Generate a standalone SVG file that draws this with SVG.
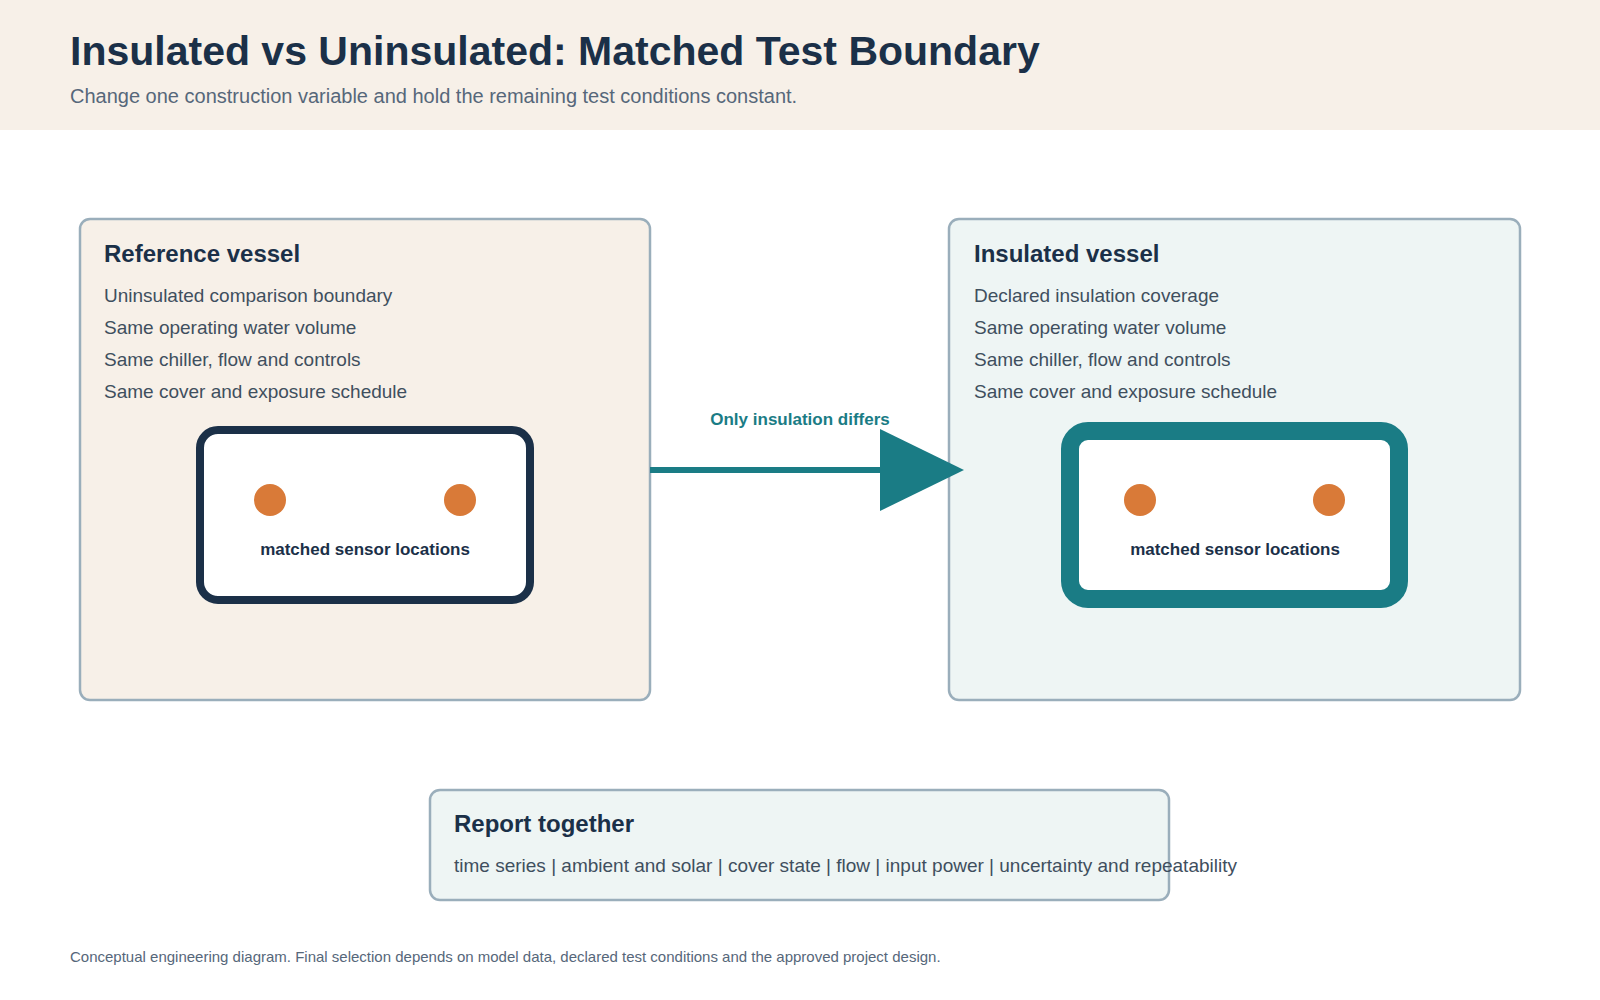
<svg xmlns="http://www.w3.org/2000/svg" width="1600" height="1000" viewBox="0 0 1600 1000">
<style>
text{font-family:"Liberation Sans",Arial,sans-serif}
.t{font-size:24px;font-weight:bold;fill:#1b3048}
.l{font-size:19px;fill:#3f4f5e}
.s{font-size:17px;font-weight:bold;fill:#1b3048}
.box{stroke:#9aaebb;stroke-width:2.5}
.dot{fill:#d97a38}
</style>
<rect width="1600" height="1000" fill="#fff"/>
<rect width="1600" height="130" fill="#f7f0e8"/>
<text x="70" y="65" font-size="41" font-weight="bold" fill="#1b3048">Insulated vs Uninsulated: Matched Test Boundary</text>
<text x="70" y="103" font-size="20" fill="#56677a">Change one construction variable and hold the remaining test conditions constant.</text>
<g id="reference">
<rect class="box" x="80" y="219" width="570" height="481" rx="10" fill="#f7f0e8"/>
<text class="t" x="104" y="262">Reference vessel</text>
<text class="l" x="104" y="302">Uninsulated comparison boundary</text>
<text class="l" x="104" y="334">Same operating water volume</text>
<text class="l" x="104" y="366">Same chiller, flow and controls</text>
<text class="l" x="104" y="398">Same cover and exposure schedule</text>
<rect x="200" y="430" width="330" height="170" rx="18" fill="#fff" stroke="#1b3048" stroke-width="8"/>
<circle class="dot" cx="270" cy="500" r="16"/><circle class="dot" cx="460" cy="500" r="16"/>
<text class="s" x="365" y="555" text-anchor="middle">matched sensor locations</text>
</g>
<g id="insulated">
<rect class="box" x="949" y="219" width="571" height="481" rx="10" fill="#eef5f4"/>
<text class="t" x="974" y="262">Insulated vessel</text>
<text class="l" x="974" y="302">Declared insulation coverage</text>
<text class="l" x="974" y="334">Same operating water volume</text>
<text class="l" x="974" y="366">Same chiller, flow and controls</text>
<text class="l" x="974" y="398">Same cover and exposure schedule</text>
<rect x="1070" y="431" width="329" height="168" rx="18" fill="#fff" stroke="#1a7c85" stroke-width="18"/>
<circle class="dot" cx="1140" cy="500" r="16"/><circle class="dot" cx="1329" cy="500" r="16"/>
<text class="s" x="1235" y="555" text-anchor="middle">matched sensor locations</text>
</g>
<g id="connectors">
<line x1="650" y1="470" x2="885" y2="470" stroke="#1a7c85" stroke-width="6"/>
<polygon points="880,429 964,470 880,511" fill="#1a7c85"/>
<text x="800" y="425" text-anchor="middle" font-size="17" font-weight="bold" fill="#1a7c85">Only insulation differs</text>
</g>
<g id="report">
<rect class="box" x="430" y="790" width="739" height="110" rx="10" fill="#eef5f4"/>
<text class="t" x="454" y="832">Report together</text>
<text class="l" x="454" y="872">time series | ambient and solar | cover state | flow | input power | uncertainty and repeatability</text>
</g>
<text x="70" y="962" font-size="15" fill="#56677a">Conceptual engineering diagram. Final selection depends on model data, declared test conditions and the approved project design.</text>
</svg>
